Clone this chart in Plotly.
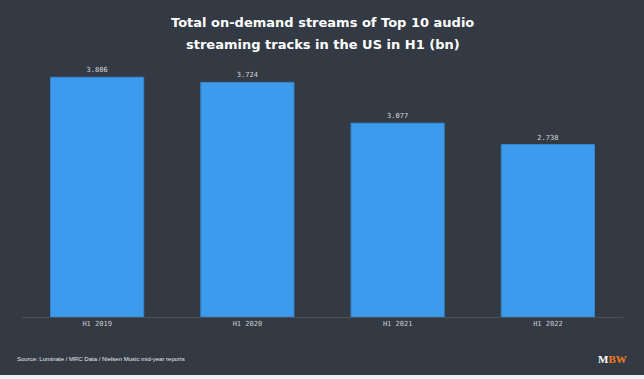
import plotly.graph_objects as go

categories = ["H1 2019", "H1 2020", "H1 2021", "H1 2022"]
values = [3.806, 3.724, 3.077, 2.738]
value_labels = ["3.806", "3.724", "3.077", "2.738"]
title_lines = ["Total on-demand streams of Top 10 audio", "streaming tracks in the US in H1 (bn)"]

BG = "#343a43"
fig = go.Figure(go.Bar(
    x=categories, y=values, text=value_labels, textposition="outside",
    textfont=dict(family="DejaVu Sans Mono", size=7, color="#d4d6da"),
    marker=dict(color="#3d9bee", line=dict(color="#3586d0", width=1)),
    cliponaxis=False,
))

title_font = dict(family="DejaVu Sans", size=13, color="#ffffff")
annotations = [
    dict(text="<b>" + title_lines[0] + "</b>", xref="paper", yref="paper",
         x=0.5, y=(317 - 23) / 252, xanchor="center", yanchor="middle",
         showarrow=False, font=title_font),
    dict(text="<b>" + title_lines[1] + "</b>", xref="paper", yref="paper",
         x=0.5, y=(317 - 44) / 252, xanchor="center", yanchor="middle",
         showarrow=False, font=title_font),
    dict(text="Source: Luminate / MRC Data / Nielsen Music mid-year reports",
         xref="paper", yref="paper", x=-0.011, y=-0.165, xanchor="left", yanchor="middle",
         showarrow=False, font=dict(family="Liberation Sans Narrow, Liberation Sans", size=6, color="#e6e7ea")),
    dict(text="<b><span style='color:#ffffff'>M</span><span style='color:#f47a20'>BW</span></b>",
         xref="paper", yref="paper", x=1.01, y=-0.165, xanchor="right", yanchor="middle",
         showarrow=False, font=dict(family="Liberation Serif", size=11)),
]

fig.update_layout(
    width=644, height=379,
    margin=dict(l=22, r=21, t=65, b=62),
    paper_bgcolor=BG, plot_bgcolor=BG,
    bargap=0.38,
    showlegend=False,
    xaxis=dict(showgrid=False, showline=True, linecolor="#4a515b", linewidth=1,
               tickfont=dict(family="DejaVu Sans Mono", size=7, color="#c9ccd1"),
               ticks="", fixedrange=True),
    yaxis=dict(range=[0, 4], showgrid=False, showticklabels=False, zeroline=False,
               showline=False, fixedrange=True),
    annotations=annotations,
    shapes=[
        dict(type="rect", xref="paper", yref="paper", x0=-0.1, x1=1.1, y0=-0.27, y1=-0.23,
             fillcolor="#eceef0", line=dict(width=0), layer="above"),
    ],
)
fig.write_html("out.html", config={"displayModeBar": False},
               post_script="document.body.style.margin='0';")
